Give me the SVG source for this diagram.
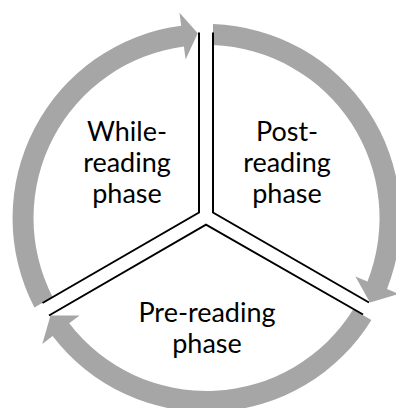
<svg xmlns="http://www.w3.org/2000/svg" width="396" height="408" viewBox="0 0 396 408">
  <style>
    .arc { fill: #A6A6A6; stroke: none; }
    .edge { fill: none; stroke: #000000; stroke-width: 2; stroke-linejoin: miter; }
    .label { font-family: Lato, "Open Sans", "Liberation Sans", sans-serif; font-size: 27px; fill: #000000; text-anchor: middle; }
  </style>
  <rect width="396" height="408" fill="#FFFFFF"/>

  <!-- curved arrows running clockwise round the cycle -->
  <g id="connectors">
    <path id="arrow-while-to-post" class="arc" d="M34.4,307.5 A194,194 0 0 1 181.2,25.7 L179.5,12.8 L197.8,33.2 L185.6,59.4 L183.9,46.5 A173,173 0 0 0 52.6,297.0 Z"/>
    <path id="arrow-post-to-pre" class="arc" d="M213,24.1 A194,194 0 0 1 387.0,289.1 L399.1,293.9 L370.0,302.4 L355.4,276.6 L367.5,281.4 A173,173 0 0 0 213,45.1 Z"/>
    <path id="arrow-pre-to-while" class="arc" d="M371.4,320.1 A194,194 0 0 1 52.6,336.1 L42.3,344.0 L50.5,315.5 L79.6,315.4 L69.2,323.3 A173,173 0 0 0 353.2,309.6 Z"/>
  </g>

  <!-- three phase sectors -->
  <g id="while-reading">
    <polyline class="edge" points="199,32.5 199,212.5 42.5,303"/>
    <text class="label" x="127" y="141">While-</text>
    <text class="label" x="127" y="172">reading</text>
    <text class="label" x="127" y="203">phase</text>
  </g>
  <g id="post-reading">
    <polyline class="edge" points="213,32.5 213,212.5 369,302.5"/>
    <text class="label" x="287" y="141">Post-</text>
    <text class="label" x="287" y="172">reading</text>
    <text class="label" x="287" y="203">phase</text>
  </g>
  <g id="pre-reading">
    <polyline class="edge" points="363,314.5 206,224.6 49,315.5"/>
    <text class="label" x="207" y="322">Pre-reading</text>
    <text class="label" x="207" y="353">phase</text>
  </g>
</svg>
